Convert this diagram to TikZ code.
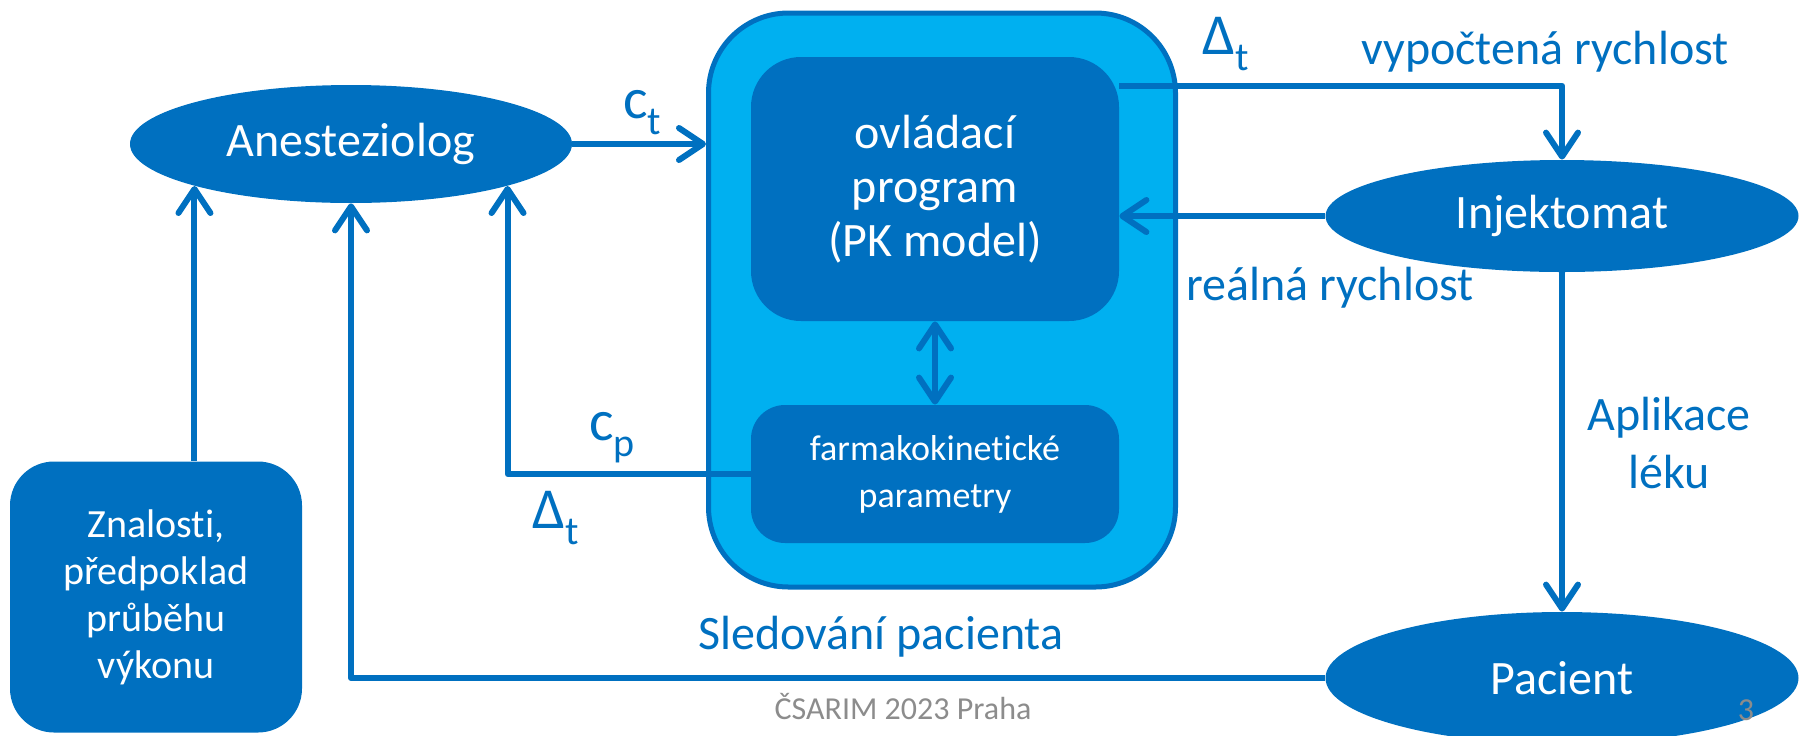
\documentclass[tikz,border=0pt]{standalone}
\usepackage{fontspec}
\setmainfont{Carlito}[Ligatures=NoCommon]
\usetikzlibrary{shapes.geometric,arrows.meta}
\definecolor{pkblue}{HTML}{0070C0}
\definecolor{pklight}{HTML}{00B0F0}
\definecolor{footgray}{HTML}{8C8C8C}
% big letter with a lowered index
\newcommand{\subl}[2]{{\fontsize{29}{29}\selectfont #1}\raisebox{-8pt}{\fontsize{20}{20}\selectfont #2}}

\begin{document}
\begin{tikzpicture}[x=0.5pt, y=-0.5pt, line join=round,
    >={Straight Barb[length=12pt, width=16pt, round]},
    oval/.style = {ellipse, fill=pkblue, text=white, inner sep=0pt, font=\fontsize{24}{24}\selectfont},
    blok/.style = {rectangle, fill=pkblue, text=white, inner sep=0pt, align=center},
    tok/.style = {draw=pkblue, line width=3pt},
    lbl/.style = {text=pkblue, align=center, inner sep=0pt, font=\fontsize{24}{29}\selectfont}]
    \useasboundingbox (0,0) rectangle (1805,735);
    % ovals
    \node[oval, minimum width=221pt, minimum height=59pt] (anest) at (351,144) {Anesteziolog};
    \node[oval, minimum width=236.5pt, minimum height=56pt] (inj) at (1562,216) {Injektomat};
    \node[oval, minimum width=236.5pt, minimum height=66pt] (pac) at (1562,678) {Pacient};
    % control unit with its two parts
    \node[rectangle, rounded corners=40pt, fill=pklight, draw=pkblue, line width=2.5pt,
        minimum width=233.5pt, minimum height=287pt] (ctrl) at (942,300) {};
    \node[blok, rounded corners=25pt, minimum width=184pt, minimum height=132pt,
        font=\fontsize{24}{27}\selectfont] (prog) at (935,189) {ovládací\\program\\(PK model)};
    \node[blok, rounded corners=17pt, minimum width=184pt, minimum height=69pt,
        font=\fontsize{18}{23.5}\selectfont] (param) at (935,474) {farmakokinetické\\parametry};
    \node[blok, rounded corners=22pt, minimum width=146pt, minimum height=135.5pt,
        font=\fontsize{20}{23.5}\selectfont] (znal) at (156,597) {Znalosti,\\předpoklad\\průběhu\\výkonu};
    % connections
    \draw[tok, ->] (anest.east) -- (anest.east -| ctrl.west);
    \draw[tok, ->] ([yshift=-14.5pt]prog.north east) -| (inj.north);
    \draw[tok, ->] (inj.west) -- (inj.west -| prog.east);
    \draw[tok, ->] (inj.south) -- (pac.north);
    \draw[tok, ->] (pac.west) -| (anest.south);
    \draw[tok, ->] (param.west) -| (anest.south east);
    \draw[tok, ->] (anest.south west |- znal.north) -- (anest.south west);
    \draw[tok, <->] (prog.south) -- (param.north);
    % labels
    \node[lbl] (ct) at (642,113) {\subl{c}{t}};
    \node[lbl] (dtup) at (1226,44) {\subl{Δ}{t}};
    \node[lbl] (vyp) at (1545,52) {vypočtená rychlost};
    \node[lbl] (real) at (1330,288) {reálná rychlost};
    \node[lbl] (apl) at (1669,443) {Aplikace\\léku};
    \node[lbl] (sled) at (881,637) {Sledování pacienta};
    \node[lbl] (cp) at (612,438) {\subl{c}{p}};
    \node[lbl] (dtdn) at (556,518) {\subl{Δ}{t}};
    % footer
    \node[text=footgray, font=\fontsize{16}{16}\selectfont] (foot) at (903,707) {ČSARIM 2023 Praha};
    \node[text=footgray, font=\fontsize{16}{16}\selectfont] (page) at (1746,710) {3};
\end{tikzpicture}
\end{document}
